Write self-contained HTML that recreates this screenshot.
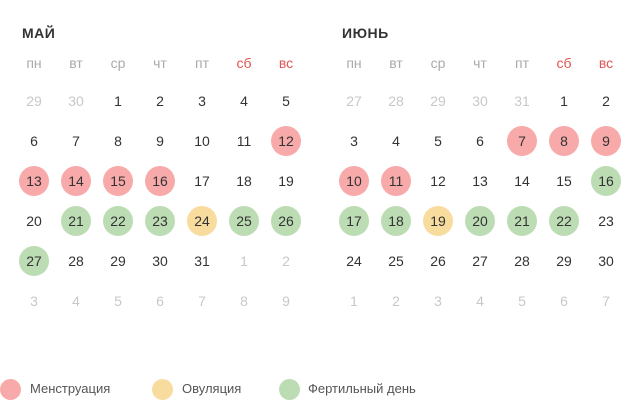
<!DOCTYPE html>
<html><head><meta charset="utf-8"><style>
body{margin:0;width:640px;height:412px;background:#fff;font-family:"Liberation Sans","DejaVu Sans",sans-serif;position:relative;overflow:hidden}
.t{position:absolute;font-weight:bold;font-size:14px;color:#333;letter-spacing:0.5px}
.c{position:absolute;width:30px;height:30px;margin:-15px 0 0 -15px;border-radius:50%;text-align:center;line-height:30px;font-size:14px;color:#333}
.h{color:#aaa;font-size:14px}.w{color:#e05555}.g{color:#c8c8c8}
.pk{background:#f7aaa9}.yl{background:#f8dc9e}.gr{background:#bcdcb4}
.lg{position:absolute;top:381px;font-size:13px;color:#555}
.ld{position:absolute;width:21px;height:21px;border-radius:50%;top:379px}
</style></head><body>
<div class="t" style="left:22px;top:25px">МАЙ</div>
<div class="t" style="left:342px;top:25px">ИЮНЬ</div>
<div id="cal"></div>
<div class="ld pk" style="left:0px"></div>
<div class="lg" style="left:30px">Менструация</div>
<div class="ld yl" style="left:152px"></div>
<div class="lg" style="left:182px">Овуляция</div>
<div class="ld gr" style="left:279px"></div>
<div class="lg" style="left:308px">Фертильный день</div>
<script>
const days=["пн","вт","ср","чт","пт","сб","вс"];
const may={x0:34,start:2,len:31,prev:30,marks:{12:"pk",13:"pk",14:"pk",15:"pk",16:"pk",21:"gr",22:"gr",23:"gr",24:"yl",25:"gr",26:"gr",27:"gr"}};
const june={x0:354,start:5,len:30,prev:31,marks:{7:"pk",8:"pk",9:"pk",10:"pk",11:"pk",16:"gr",17:"gr",18:"gr",19:"yl",20:"gr",21:"gr",22:"gr"}};
const cal=document.getElementById('cal');
function add(x,y,txt,cls,name){const d=document.createElement('div');d.className='c '+cls;d.style.left=x+'px';d.style.top=y+'px';d.textContent=txt;


cal.appendChild(d);}
[may,june].forEach((m,mi)=>{
 days.forEach((d,i)=>add(m.x0+i*42,63,d,'h'+(i>4?' w':''),'weekday-'+d));
 for(let r=0;r<6;r++)for(let c=0;c<7;c++){
  const idx=r*7+c-m.start+1;let txt,cls='';
  if(idx<1){txt=m.prev+idx;cls='g';}else if(idx>m.len){txt=idx-m.len;cls='g';}else{txt=idx;cls=m.marks[idx]||'';}
  add(m.x0+c*42,101+r*40,txt,cls,(mi?'june':'may')+'-day-'+txt);
 }
});
</script>
</body></html>
